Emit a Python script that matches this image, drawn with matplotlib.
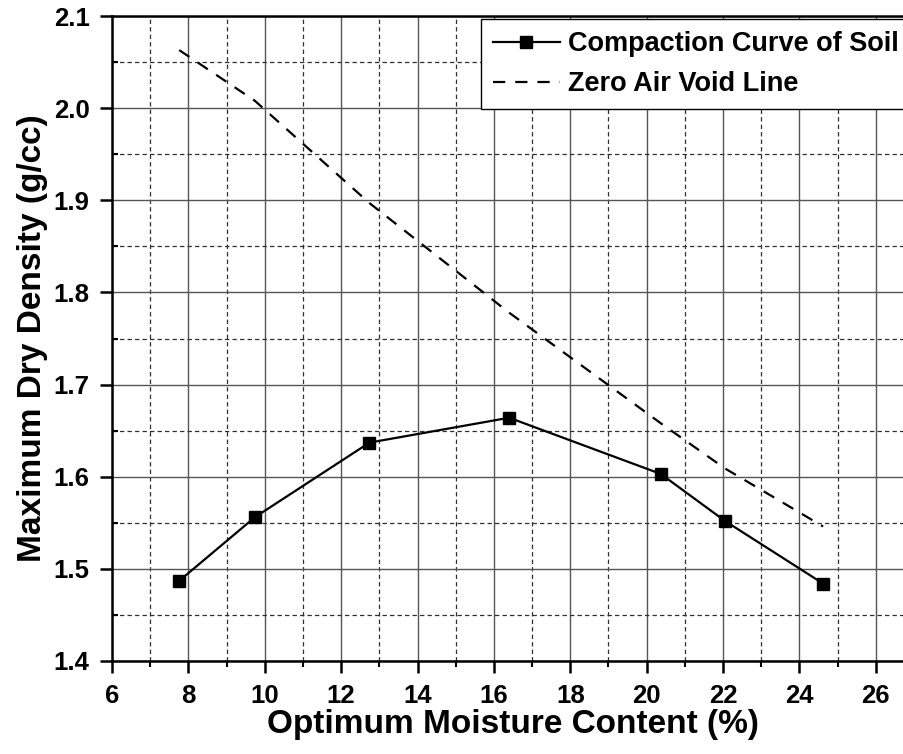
import matplotlib
matplotlib.use("Agg")
import matplotlib.pyplot as plt
from matplotlib.ticker import MultipleLocator

plt.rcParams['font.family'] = ['Liberation Sans', 'DejaVu Sans']
plt.rcParams['font.weight'] = 'bold'

# Data
moisture = [7.76, 9.74, 12.74, 16.40, 20.37, 22.05, 24.62]
dry_density = [1.487, 1.556, 1.637, 1.664, 1.603, 1.552, 1.484]
zav_moisture = [7.76, 9.74, 12.74, 16.40, 20.37, 22.05, 24.62]
zav_density = [2.063, 2.008, 1.897, 1.778, 1.658, 1.609, 1.546]
x_ticks = [6, 8, 10, 12, 14, 16, 18, 20, 22, 24, 26]
y_ticks = [1.4, 1.5, 1.6, 1.7, 1.8, 1.9, 2.0, 2.1]

W, H = 904, 754
fig = plt.figure(figsize=(W / 100, H / 100), dpi=100)
left, bottom, top = 112, 661, 16
right = 914
ax = fig.add_axes([left / W, 1 - bottom / H, (right - left) / W, (bottom - top) / H])

ax.set_xlim(6, 27)
ax.set_ylim(1.4, 2.1)

ax.grid(which='major', color='#555555', linewidth=1.0, linestyle='-')
ax.grid(which='minor', color='#303030', linewidth=0.9, linestyle=(0, (3.5, 2.5)))
ax.set_axisbelow(True)

ax.plot(moisture, dry_density, color='black', linewidth=1.6, marker='s',
        markersize=9, markerfacecolor='black', markeredgecolor='black',
        label='Compaction Curve of Soil', zorder=3)
ax.plot(zav_moisture, zav_density, color='black', linewidth=1.6,
        dashes=(5.5, 4.5), label='Zero Air Void Line', zorder=3)

for s in ax.spines.values():
    s.set_linewidth(1.8)
    s.set_color('black')

ax.set_xticks(x_ticks)
ax.set_xticklabels([f'{v:d}' for v in x_ticks])
ax.set_yticks(y_ticks)
ax.set_yticklabels([f'{v:.1f}' for v in y_ticks])
ax.xaxis.set_minor_locator(MultipleLocator(1))
ax.yaxis.set_minor_locator(MultipleLocator(0.05))

ax.tick_params(axis='x', which='major', direction='out', length=8.6, width=1.8, labelsize=18.5, pad=8)
ax.tick_params(axis='x', which='minor', direction='out', length=4.5, width=1.5)
ax.tick_params(axis='y', which='major', direction='out', length=8.6, width=1.8, labelsize=18.5, pad=7.5)
ax.tick_params(axis='y', which='minor', direction='in', length=4.5, width=1.5)
for lab in ax.get_xticklabels() + ax.get_yticklabels():
    lab.set_fontweight('bold')

ax.set_xlabel('Optimum Moisture Content (%)', fontsize=24, fontweight='bold', labelpad=1)
ax.set_ylabel('Maximum Dry Density (g/cc)', fontsize=24, fontweight='bold', labelpad=4)

leg = fig.legend(loc='upper left', bbox_to_anchor=(481 / W, 1 - 19 / H),
                 prop={'size': 19.5, 'weight': 'bold'}, frameon=True, fancybox=False,
                 edgecolor='black', framealpha=1, handlelength=2.45, handletextpad=0.3,
                 borderpad=0.45, labelspacing=0.52, borderaxespad=0)
leg.get_frame().set_linewidth(1.0)

fig.savefig('out.png', dpi=100)
